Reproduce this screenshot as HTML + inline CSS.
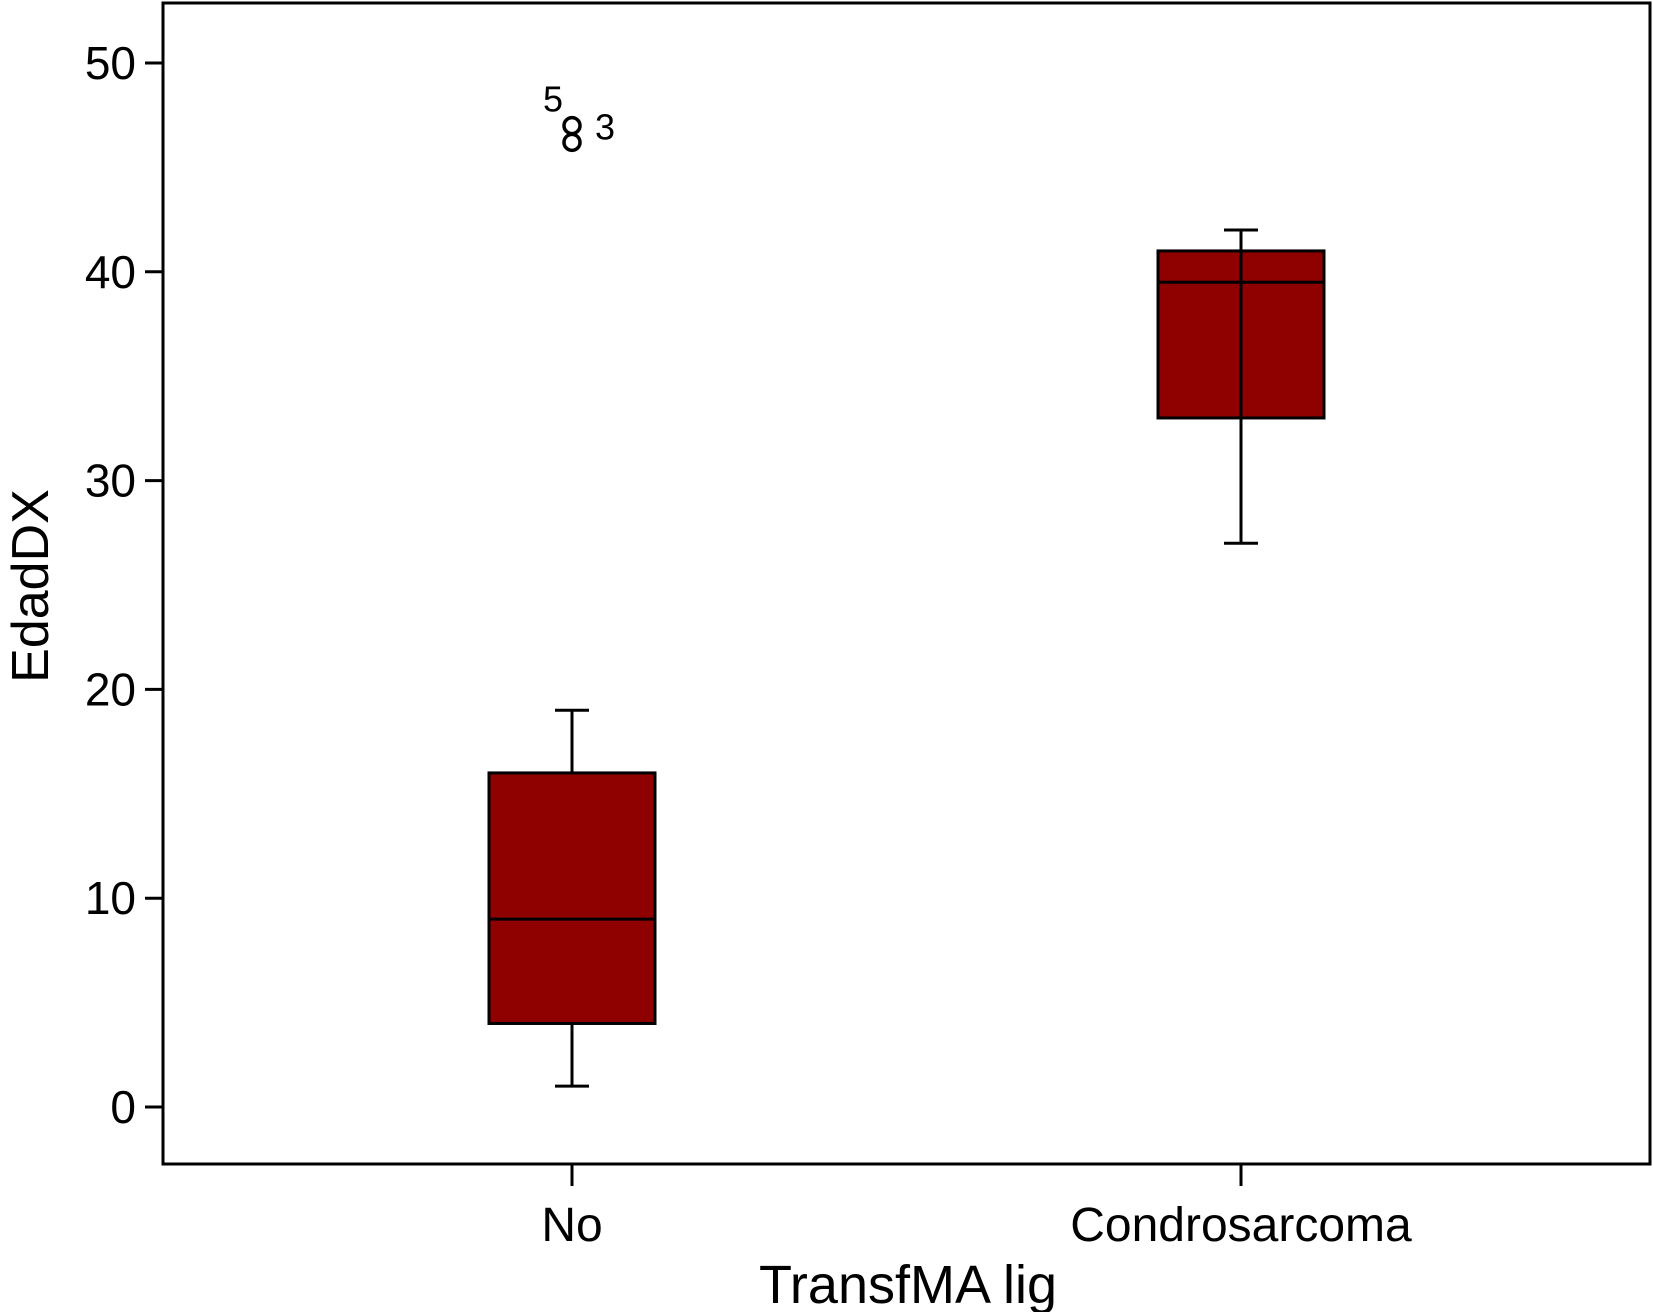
<!DOCTYPE html>
<html><head><meta charset="utf-8"><style>
html,body{margin:0;padding:0;background:#fff;}
svg{display:block;font-family:"Liberation Sans",Arial,sans-serif;}
</style></head><body>
<svg id="chart" width="1653" height="1312" viewBox="0 0 1653 1312" xmlns="http://www.w3.org/2000/svg"></svg>
<script>
const categories = ["No", "Condrosarcoma"];
const whiskerLow = [1, 27];
const q1 = [4, 33];
const medians = [9, 39.5];
const q3 = [16, 41];
const whiskerHigh = [19, 42];
const outlierValues = [47, 46.2];
const outlierLabels = ["5", "3"];
const outlierCategory = [0, 0];
const yTicks = [0, 10, 20, 30, 40, 50];

const NS = "http://www.w3.org/2000/svg";
const svg = document.getElementById("chart");
const L = 163, R = 1650, T = 3, B = 1164;
const y = v => 1107 - v * 20.88;
const xCenters = [572, 1241];
const x = i => xCenters[i];
const halfW = 83;

function mk(tag, attrs, parent) {
  const e = document.createElementNS(NS, tag);
  for (const k in attrs) e.setAttribute(k, attrs[k]);
  (parent || svg).appendChild(e);
  return e;
}

let frame = mk("rect", {x: L, y: T, width: R - L, height: B - T, fill: "none", stroke: "#000", "stroke-width": 3});



yTicks.forEach(v => {
  const t = mk("line", {x1: 145, x2: L, y1: y(v), y2: y(v), stroke: "#000", "stroke-width": 3});
  
  
  const lb = mk("text", {x: 136, y: y(v) + 16, "text-anchor": "end", "font-size": 46});
  lb.textContent = v;
  
  
});

categories.forEach((c, i) => {
  const cx = x(i);
  const g = mk("g", {});
  
  
  mk("line", {x1: cx, x2: cx, y1: y(whiskerLow[i]), y2: y(q1[i]), stroke: "#000", "stroke-width": 3}, g);
  mk("line", {x1: cx, x2: cx, y1: y(whiskerHigh[i]), y2: y(q3[i]), stroke: "#000", "stroke-width": 3}, g);
  mk("line", {x1: cx - 17, x2: cx + 17, y1: y(whiskerLow[i]), y2: y(whiskerLow[i]), stroke: "#000", "stroke-width": 3}, g);
  mk("line", {x1: cx - 17, x2: cx + 17, y1: y(whiskerHigh[i]), y2: y(whiskerHigh[i]), stroke: "#000", "stroke-width": 3}, g);
  mk("rect", {x: cx - halfW, y: y(q3[i]), width: 2 * halfW, height: y(q1[i]) - y(q3[i]), fill: "#8f0000", stroke: "#000", "stroke-width": 3}, g);
  if (i === 1) mk("line", {x1: cx, x2: cx, y1: y(q3[i]), y2: y(q1[i]), stroke: "#000", "stroke-width": 3}, g);
  mk("line", {x1: cx - halfW, x2: cx + halfW, y1: y(medians[i]), y2: y(medians[i]), stroke: "#000", "stroke-width": 3}, g);
  const t = mk("line", {x1: cx, x2: cx, y1: B, y2: B + 22, stroke: "#000", "stroke-width": 3});
  
  
  const lb = mk("text", {x: cx, y: 1241, "text-anchor": "middle", "font-size": 48});
  lb.textContent = c;
  
  
});

outlierValues.forEach((v, k) => {
  const cx = x(outlierCategory[k]);
  const c = mk("circle", {cx: cx, cy: y(v), r: 8, fill: "none", stroke: "#000", "stroke-width": 3.5});
  
  
  const lb = mk("text", {x: k === 0 ? cx - 19 : cx + 33, y: k === 0 ? y(v) - 14 : y(v) - 3, "text-anchor": "middle", "font-size": 36});
  lb.textContent = outlierLabels[k];
  
  
});

const xt = mk("text", {x: 908, y: 1303, "text-anchor": "middle", "font-size": 54});
xt.textContent = "TransfMA lig";


const yt = mk("text", {x: 0, y: 0, "text-anchor": "middle", "font-size": 52, transform: "translate(48,586) rotate(-90)"});
yt.textContent = "EdadDX";


</script>
</body></html>
